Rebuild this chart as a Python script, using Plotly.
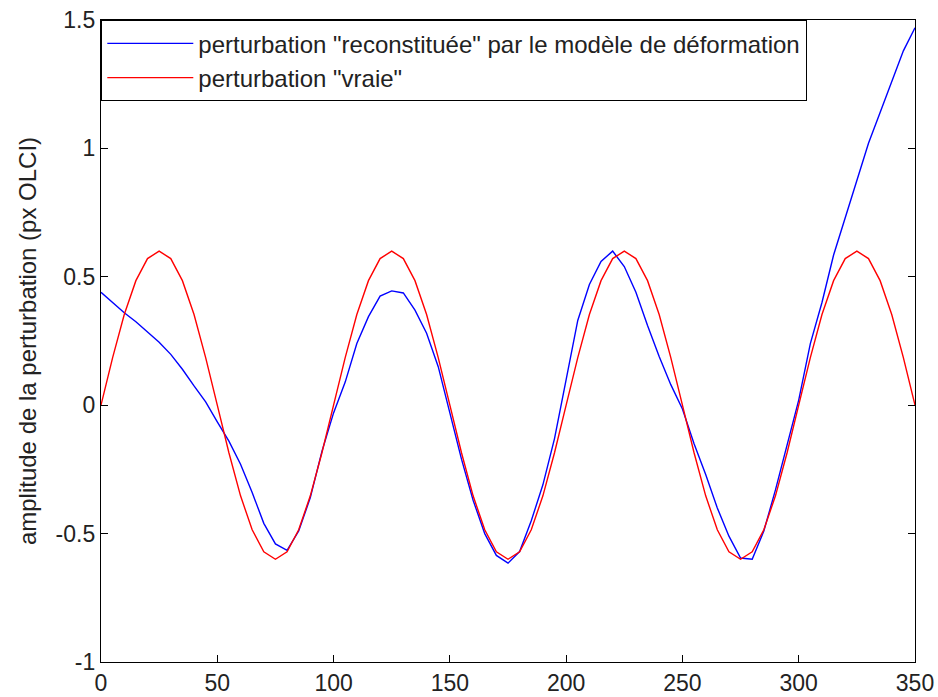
import plotly.graph_objects as go

# sample positions (px along the profile)
x_pos = list(range(0, 355, 5))

# perturbation "vraie"
vraie = [0.0, 0.185, 0.353, 0.485, 0.571, 0.6, 0.571, 0.485, 0.353, 0.185,
         0.0, -0.185, -0.353, -0.485, -0.571, -0.6, -0.571, -0.485, -0.353, -0.185,
         0.0, 0.185, 0.353, 0.485, 0.571, 0.6, 0.571, 0.485, 0.353, 0.185,
         0.0, -0.185, -0.353, -0.485, -0.571, -0.6, -0.571, -0.485, -0.353, -0.185,
         0.0, 0.185, 0.353, 0.485, 0.571, 0.6, 0.571, 0.485, 0.353, 0.185,
         0.0, -0.185, -0.353, -0.485, -0.571, -0.6, -0.571, -0.485, -0.353, -0.185,
         0.0, 0.185, 0.353, 0.485, 0.571, 0.6, 0.571, 0.485, 0.353, 0.185,
         0.0]

# perturbation "reconstituée" par le modèle de déformation
reconstituee = [0.44, 0.40, 0.36, 0.325, 0.285, 0.245, 0.198, 0.14, 0.075, 0.013,
                -0.065, -0.14, -0.23, -0.34, -0.46, -0.54, -0.565, -0.49, -0.36, -0.18,
                -0.03, 0.09, 0.24, 0.345, 0.425, 0.445, 0.437, 0.37, 0.28, 0.15,
                -0.03, -0.21, -0.37, -0.50, -0.585, -0.615, -0.57, -0.45, -0.31, -0.13,
                0.10, 0.33, 0.47, 0.56, 0.60, 0.54, 0.44, 0.31, 0.19, 0.08,
                -0.015, -0.15, -0.27, -0.40, -0.51, -0.595, -0.60, -0.49, -0.33, -0.15,
                0.02, 0.24, 0.40, 0.585, 0.73, 0.88, 1.02, 1.14, 1.26, 1.38,
                1.47]

x_ticks = [0, 50, 100, 150, 200, 250, 300, 350]
y_ticks = [-1, -0.5, 0, 0.5, 1, 1.5]
y_ticktext = ["-1", "-0.5", "0", "0.5", "1", "1.5"]

font_name = "Liberation Sans, Arial, sans-serif"

fig = go.Figure()
fig.add_trace(go.Scatter(x=x_pos, y=reconstituee, mode="lines",
                         name='perturbation "reconstituée" par le modèle de déformation',
                         line=dict(color="#0000ff", width=1.4)))
fig.add_trace(go.Scatter(x=x_pos, y=vraie, mode="lines",
                         name='perturbation "vraie"',
                         line=dict(color="#ff0000", width=1.4)))

axis_style = dict(showline=True, linecolor="black", linewidth=1.3, mirror="ticks",
                  ticks="inside", ticklen=7, tickcolor="black", tickwidth=1.3,
                  showgrid=False, zeroline=False, automargin=False,
                  tickfont=dict(family=font_name, size=23, color="#222222"))

fig.update_layout(
    width=938, height=697,
    margin=dict(l=101, r=23, t=20, b=35),
    paper_bgcolor="white", plot_bgcolor="white",
    font=dict(family=font_name, size=23, color="#222222"),
    xaxis=dict(range=[0, 350], tickvals=x_ticks, **axis_style),
    yaxis=dict(range=[-1, 1.5], tickvals=y_ticks, ticktext=y_ticktext,
               title=dict(text="amplitude de la perturbation (px OLCI)",
                          font=dict(size=24), standoff=12),
               **axis_style),
    legend=dict(x=0, y=1, xanchor="left", yanchor="top",
                bordercolor="black", borderwidth=1.3, bgcolor="white",
                itemwidth=86, font=dict(size=24, color="#222222")),
    showlegend=True,
)

# drop the default page margin so the 938x697 figure fills the window
fig.write_html("out.html", config={"displayModeBar": False},
               post_script="document.body.style.margin='0';")
